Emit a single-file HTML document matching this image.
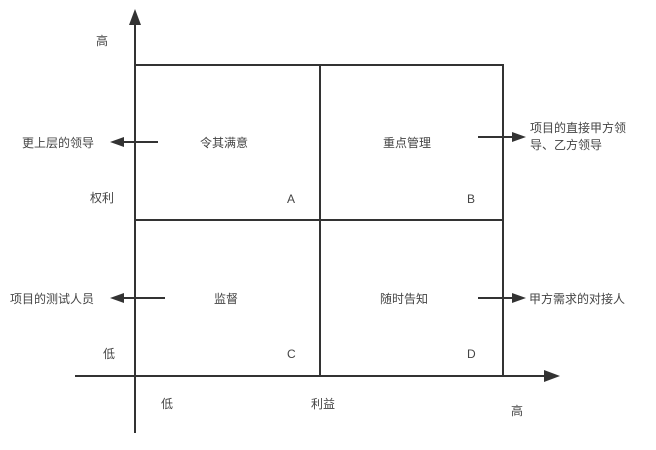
<!DOCTYPE html>
<html><head><meta charset="utf-8"><style>
body{margin:0;background:#fff;}
svg text{font-family:"Liberation Sans","Noto Sans CJK SC",sans-serif;font-size:12px;fill:#444;}
</style></head><body>
<svg width="656" height="445" viewBox="0 0 656 445" xmlns="http://www.w3.org/2000/svg">
<g stroke="#333" stroke-width="2" fill="none">
<line x1="135" y1="22" x2="135" y2="433"/>
<line x1="75" y1="376" x2="548" y2="376"/>
<rect x="135" y="65" width="368" height="311"/>
<line x1="320" y1="65" x2="320" y2="376"/>
<line x1="135" y1="220" x2="503" y2="220"/>
<line x1="158" y1="142" x2="120" y2="142"/>
<line x1="478" y1="137" x2="515" y2="137"/>
<line x1="165" y1="298" x2="120" y2="298"/>
<line x1="478" y1="298" x2="515" y2="298"/>
</g>
<g fill="#333">
<polygon points="135,9 129,25 141,25"/>
<polygon points="560,376 544,370 544,382"/>
<polygon points="110,142 124,137 124,147"/>
<polygon points="526,137 512,132 512,142"/>
<polygon points="110,298 124,293 124,303"/>
<polygon points="526,298 512,293 512,303"/>
</g>
<text x="96" y="45">高</text>
<text x="90" y="202">权利</text>
<text x="103" y="358">低</text>
<text x="161" y="408">低</text>
<text x="311" y="408">利益</text>
<text x="511" y="415">高</text>
<text x="22" y="147">更上层的领导</text>
<text x="200" y="147">令其满意</text>
<text x="383" y="147">重点管理</text>
<text x="530" y="132">项目的直接甲方领</text>
<text x="530" y="149">导、乙方领导</text>
<text x="10" y="303">项目的测试人员</text>
<text x="214" y="303">监督</text>
<text x="380" y="303">随时告知</text>
<text x="529" y="303">甲方需求的对接人</text>
<text x="287" y="203">A</text>
<text x="467" y="203">B</text>
<text x="287" y="358">C</text>
<text x="467" y="358">D</text>
</svg>
</body></html>
